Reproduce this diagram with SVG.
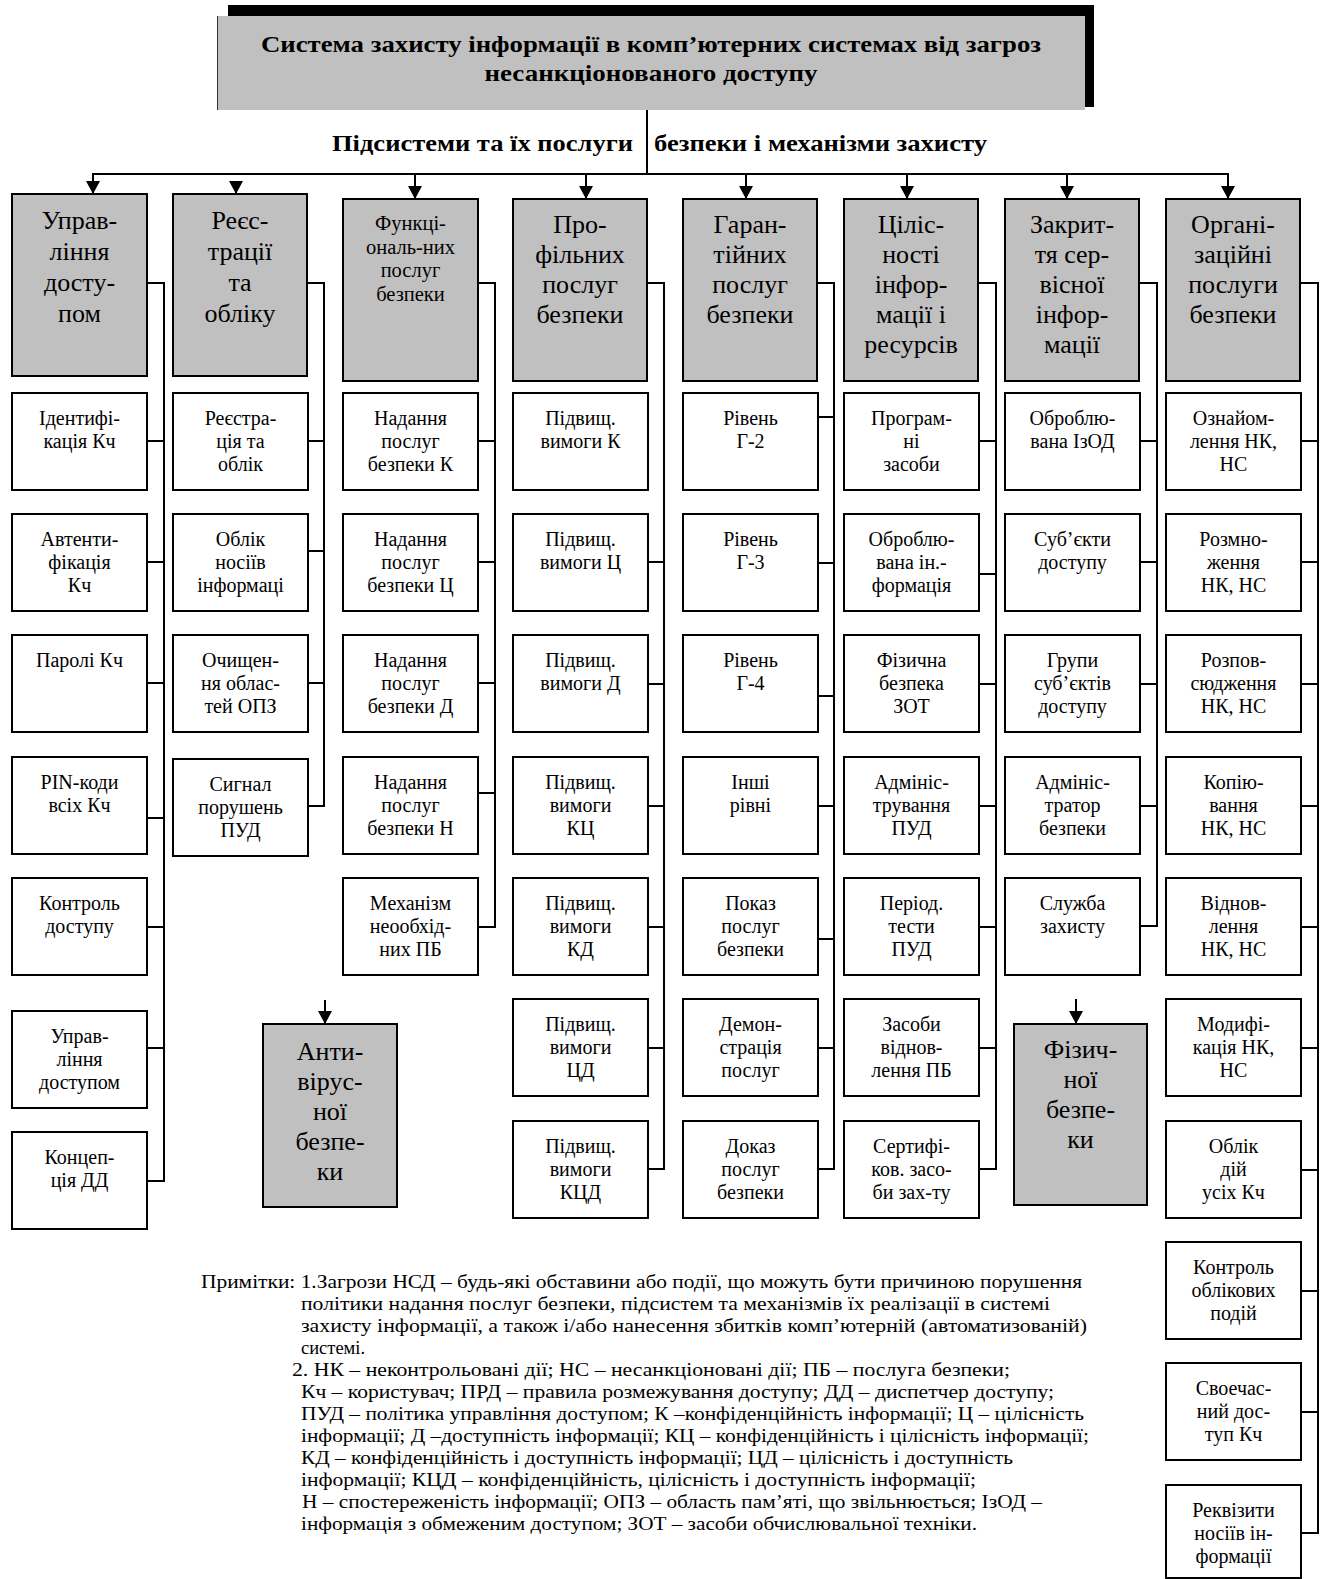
<svg xmlns="http://www.w3.org/2000/svg" width="1322" height="1579" viewBox="0 0 1322 1579">
<style>
.b{fill:#fff;stroke:#000;stroke-width:2}
.h{fill:#c0c0c0;stroke:#000;stroke-width:2}
.t{font-family:"Liberation Serif","Times New Roman",serif;font-size:20px;text-anchor:middle;fill:#000}
.ht{font-family:"Liberation Serif","Times New Roman",serif;font-size:26px;text-anchor:middle;fill:#000}
.tb{font-family:"Liberation Serif","Times New Roman",serif;font-weight:bold;font-size:24px;fill:#000}
.n{font-family:"Liberation Serif","Times New Roman",serif;font-size:18.5px;fill:#000}
.c{fill:none;stroke:#000;stroke-width:2}
</style>
<defs>
<marker id="ar" markerUnits="userSpaceOnUse" markerWidth="14" markerHeight="14" viewBox="0 0 13 14" refX="13" refY="7" orient="auto">
<path d="M0,0 L13,7 L0,14 z" fill="#000"/>
</marker>
</defs>
<rect width="1322" height="1579" fill="#fff"/>

<g id="title">
<rect x="228" y="5" width="866" height="102" fill="#000"/>
<rect x="217" y="16" width="868" height="94" fill="#c0c0c0"/>
<line x1="217.5" y1="16" x2="217.5" y2="110" stroke="#333" stroke-width="1"/>
<text class="tb" x="651" y="52" text-anchor="middle" textLength="780" lengthAdjust="spacingAndGlyphs">Система захисту інформації в комп’ютерних системах від загроз</text>
<text class="tb" x="651" y="81" text-anchor="middle" textLength="333" lengthAdjust="spacingAndGlyphs">несанкціонованого доступу</text>
</g>
<g id="subtitle">
<text class="tb" x="332" y="151" textLength="301" lengthAdjust="spacingAndGlyphs">Підсистеми та їх послуги</text>
<text class="tb" x="654" y="151" textLength="333" lengthAdjust="spacingAndGlyphs">безпеки і механізми захисту</text>
</g>

<g id="connectors">
<line class="c" x1="647" y1="110" x2="647" y2="174"/>
<polyline class="c" points="93,194 93,174 1228,174 1228,199"/>
<line class="c" x1="93" y1="174" x2="93" y2="194" marker-end="url(#ar)"/>
<line class="c" x1="236" y1="184" x2="236" y2="194" marker-end="url(#ar)"/>
<line class="c" x1="415" y1="174" x2="415" y2="199" marker-end="url(#ar)"/>
<line class="c" x1="586" y1="174" x2="586" y2="199" marker-end="url(#ar)"/>
<line class="c" x1="746" y1="174" x2="746" y2="199" marker-end="url(#ar)"/>
<line class="c" x1="907" y1="174" x2="907" y2="199" marker-end="url(#ar)"/>
<line class="c" x1="1067" y1="174" x2="1067" y2="199" marker-end="url(#ar)"/>
<line class="c" x1="1228" y1="174" x2="1228" y2="199" marker-end="url(#ar)"/>
<line class="c" x1="325" y1="1000" x2="325" y2="1024" marker-end="url(#ar)"/>
<line class="c" x1="1076" y1="999" x2="1076" y2="1024" marker-end="url(#ar)"/>
<path class="c" d="M147,283 H164 V1181 H147 M147,441 H164 M147,562 H164 M147,683 H164 M147,818 H164 M147,927 H164 M147,1048 H164"/>
<path class="c" d="M307,283 H324 V806 H308 M308,441 H324 M308,551 H324 M308,683 H324"/>
<path class="c" d="M478,283 H495 V927 H478 M478,441 H495 M478,562 H495 M478,683 H495 M478,793 H495"/>
<path class="c" d="M648,283 H664 V1169 H648 M648,562 H664 M648,684 H664 M648,806 H664 M648,927 H664 M648,1048 H664"/>
<path class="c" d="M818,283 H834 V1169 H818 M818,417 H834 M818,563 H834 M818,696 H834 M818,806 H834 M818,939 H834 M818,1048 H834"/>
<path class="c" d="M979,283 H996 V1169 H979 M979,441 H996 M979,574 H996 M979,684 H996 M979,806 H996 M979,927 H996 M979,1048 H996"/>
<path class="c" d="M1140,283 H1157 V926 H1140 M1140,441 H1157 M1140,562 H1157 M1140,684 H1157 M1140,806 H1157"/>
<path class="c" d="M1301,283 H1318 V1533 H1301 M1301,441 H1318 M1301,562 H1318 M1301,684 H1318 M1301,806 H1318 M1301,927 H1318 M1301,1048 H1318 M1301,1170 H1318 M1301,1291 H1318 M1301,1412 H1318"/>
</g>

<g id="h1"><rect class="h" x="12" y="194" width="135" height="182"/>
<text class="ht"><tspan x="79.5" y="229">Управ-</tspan><tspan x="79.5" y="260">ління</tspan><tspan x="79.5" y="291">досту-</tspan><tspan x="79.5" y="322">пом</tspan></text></g>
<g id="c1r1"><rect class="b" x="12" y="393" width="135" height="97"/><text class="t"><tspan x="79.5" y="425">Ідентифі-</tspan><tspan x="79.5" y="448">кація Кч</tspan></text></g>
<g id="c1r2"><rect class="b" x="12" y="514" width="135" height="97"/><text class="t"><tspan x="79.5" y="546">Автенти-</tspan><tspan x="79.5" y="569">фікація</tspan><tspan x="79.5" y="592">Кч</tspan></text></g>
<g id="c1r3"><rect class="b" x="12" y="635" width="135" height="97"/><text class="t"><tspan x="79.5" y="667">Паролі Кч</tspan></text></g>
<g id="c1r4"><rect class="b" x="12" y="757" width="135" height="97"/><text class="t"><tspan x="79.5" y="789">PIN-коди</tspan><tspan x="79.5" y="812">всіх Кч</tspan></text></g>
<g id="c1r5"><rect class="b" x="12" y="878" width="135" height="97"/><text class="t"><tspan x="79.5" y="910">Контроль</tspan><tspan x="79.5" y="933">доступу</tspan></text></g>
<g id="c1r6"><rect class="b" x="12" y="1011" width="135" height="97"/><text class="t"><tspan x="79.5" y="1043">Управ-</tspan><tspan x="79.5" y="1066">ління</tspan><tspan x="79.5" y="1089">доступом</tspan></text></g>
<g id="c1r7"><rect class="b" x="12" y="1132" width="135" height="97"/><text class="t"><tspan x="79.5" y="1164">Концеп-</tspan><tspan x="79.5" y="1187">ція ДД</tspan></text></g>

<g id="h2"><rect class="h" x="173" y="194" width="134" height="182"/>
<text class="ht"><tspan x="240" y="229">Реєс-</tspan><tspan x="240" y="260">трації</tspan><tspan x="240" y="291">та</tspan><tspan x="240" y="322">обліку</tspan></text></g>
<g id="c2r1"><rect class="b" x="173" y="393" width="135" height="97"/><text class="t"><tspan x="240.5" y="425">Реєстра-</tspan><tspan x="240.5" y="448">ція та</tspan><tspan x="240.5" y="471">облік</tspan></text></g>
<g id="c2r2"><rect class="b" x="173" y="514" width="135" height="97"/><text class="t"><tspan x="240.5" y="546">Облік</tspan><tspan x="240.5" y="569">носіїв</tspan><tspan x="240.5" y="592">інформаці</tspan></text></g>
<g id="c2r3"><rect class="b" x="173" y="635" width="135" height="97"/><text class="t"><tspan x="240.5" y="667">Очищен-</tspan><tspan x="240.5" y="690">ня облас-</tspan><tspan x="240.5" y="713">тей ОПЗ</tspan></text></g>
<g id="c2r4"><rect class="b" x="173" y="759" width="135" height="97"/><text class="t"><tspan x="240.5" y="791">Сигнал</tspan><tspan x="240.5" y="814">порушень</tspan><tspan x="240.5" y="837">ПУД</tspan></text></g>

<g id="h3"><rect class="h" x="343" y="199" width="135" height="182"/>
<text class="t" style="font-size:20.5px"><tspan x="410.5" y="230">Функці-</tspan><tspan x="410.5" y="253.5">ональ-них</tspan><tspan x="410.5" y="277">послуг</tspan><tspan x="410.5" y="300.5">безпеки</tspan></text></g>
<g id="c3r1"><rect class="b" x="343" y="393" width="135" height="97"/><text class="t"><tspan x="410.5" y="425">Надання</tspan><tspan x="410.5" y="448">послуг</tspan><tspan x="410.5" y="471">безпеки К</tspan></text></g>
<g id="c3r2"><rect class="b" x="343" y="514" width="135" height="97"/><text class="t"><tspan x="410.5" y="546">Надання</tspan><tspan x="410.5" y="569">послуг</tspan><tspan x="410.5" y="592">безпеки Ц</tspan></text></g>
<g id="c3r3"><rect class="b" x="343" y="635" width="135" height="97"/><text class="t"><tspan x="410.5" y="667">Надання</tspan><tspan x="410.5" y="690">послуг</tspan><tspan x="410.5" y="713">безпеки Д</tspan></text></g>
<g id="c3r4"><rect class="b" x="343" y="757" width="135" height="97"/><text class="t"><tspan x="410.5" y="789">Надання</tspan><tspan x="410.5" y="812">послуг</tspan><tspan x="410.5" y="835">безпеки Н</tspan></text></g>
<g id="c3r5"><rect class="b" x="343" y="878" width="135" height="97"/><text class="t"><tspan x="410.5" y="910">Механізм</tspan><tspan x="410.5" y="933">неообхід-</tspan><tspan x="410.5" y="956">них ПБ</tspan></text></g>

<g id="h4"><rect class="h" x="513" y="199" width="134" height="182"/>
<text class="ht"><tspan x="580" y="233">Про-</tspan><tspan x="580" y="263">фільних</tspan><tspan x="580" y="293">послуг</tspan><tspan x="580" y="323">безпеки</tspan></text></g>
<g id="c4r1"><rect class="b" x="513" y="393" width="135" height="97"/><text class="t"><tspan x="580.5" y="425">Підвищ.</tspan><tspan x="580.5" y="448">вимоги К</tspan></text></g>
<g id="c4r2"><rect class="b" x="513" y="514" width="135" height="97"/><text class="t"><tspan x="580.5" y="546">Підвищ.</tspan><tspan x="580.5" y="569">вимоги Ц</tspan></text></g>
<g id="c4r3"><rect class="b" x="513" y="635" width="135" height="97"/><text class="t"><tspan x="580.5" y="667">Підвищ.</tspan><tspan x="580.5" y="690">вимоги Д</tspan></text></g>
<g id="c4r4"><rect class="b" x="513" y="757" width="135" height="97"/><text class="t"><tspan x="580.5" y="789">Підвищ.</tspan><tspan x="580.5" y="812">вимоги</tspan><tspan x="580.5" y="835">КЦ</tspan></text></g>
<g id="c4r5"><rect class="b" x="513" y="878" width="135" height="97"/><text class="t"><tspan x="580.5" y="910">Підвищ.</tspan><tspan x="580.5" y="933">вимоги</tspan><tspan x="580.5" y="956">КД</tspan></text></g>
<g id="c4r6"><rect class="b" x="513" y="999" width="135" height="97"/><text class="t"><tspan x="580.5" y="1031">Підвищ.</tspan><tspan x="580.5" y="1054">вимоги</tspan><tspan x="580.5" y="1077">ЦД</tspan></text></g>
<g id="c4r7"><rect class="b" x="513" y="1121" width="135" height="97"/><text class="t"><tspan x="580.5" y="1153">Підвищ.</tspan><tspan x="580.5" y="1176">вимоги</tspan><tspan x="580.5" y="1199">КЦД</tspan></text></g>

<g id="h5"><rect class="h" x="683" y="199" width="134" height="182"/>
<text class="ht"><tspan x="750" y="233">Гаран-</tspan><tspan x="750" y="263">тійних</tspan><tspan x="750" y="293">послуг</tspan><tspan x="750" y="323">безпеки</tspan></text></g>
<g id="c5r1"><rect class="b" x="683" y="393" width="135" height="97"/><text class="t"><tspan x="750.5" y="425">Рівень</tspan><tspan x="750.5" y="448">Г-2</tspan></text></g>
<g id="c5r2"><rect class="b" x="683" y="514" width="135" height="97"/><text class="t"><tspan x="750.5" y="546">Рівень</tspan><tspan x="750.5" y="569">Г-3</tspan></text></g>
<g id="c5r3"><rect class="b" x="683" y="635" width="135" height="97"/><text class="t"><tspan x="750.5" y="667">Рівень</tspan><tspan x="750.5" y="690">Г-4</tspan></text></g>
<g id="c5r4"><rect class="b" x="683" y="757" width="135" height="97"/><text class="t"><tspan x="750.5" y="789">Інші</tspan><tspan x="750.5" y="812">рівні</tspan></text></g>
<g id="c5r5"><rect class="b" x="683" y="878" width="135" height="97"/><text class="t"><tspan x="750.5" y="910">Показ</tspan><tspan x="750.5" y="933">послуг</tspan><tspan x="750.5" y="956">безпеки</tspan></text></g>
<g id="c5r6"><rect class="b" x="683" y="999" width="135" height="97"/><text class="t"><tspan x="750.5" y="1031">Демон-</tspan><tspan x="750.5" y="1054">страція</tspan><tspan x="750.5" y="1077">послуг</tspan></text></g>
<g id="c5r7"><rect class="b" x="683" y="1121" width="135" height="97"/><text class="t"><tspan x="750.5" y="1153">Доказ</tspan><tspan x="750.5" y="1176">послуг</tspan><tspan x="750.5" y="1199">безпеки</tspan></text></g>

<g id="h6"><rect class="h" x="844" y="199" width="134" height="182"/>
<text class="ht"><tspan x="911" y="233">Ціліс-</tspan><tspan x="911" y="263">ності</tspan><tspan x="911" y="293">інфор-</tspan><tspan x="911" y="323">мації і</tspan><tspan x="911" y="353">ресурсів</tspan></text></g>
<g id="c6r1"><rect class="b" x="844" y="393" width="135" height="97"/><text class="t"><tspan x="911.5" y="425">Програм-</tspan><tspan x="911.5" y="448">ні</tspan><tspan x="911.5" y="471">засоби</tspan></text></g>
<g id="c6r2"><rect class="b" x="844" y="514" width="135" height="97"/><text class="t"><tspan x="911.5" y="546">Оброблю-</tspan><tspan x="911.5" y="569">вана ін.-</tspan><tspan x="911.5" y="592">формація</tspan></text></g>
<g id="c6r3"><rect class="b" x="844" y="635" width="135" height="97"/><text class="t"><tspan x="911.5" y="667">Фізична</tspan><tspan x="911.5" y="690">безпека</tspan><tspan x="911.5" y="713">ЗОТ</tspan></text></g>
<g id="c6r4"><rect class="b" x="844" y="757" width="135" height="97"/><text class="t"><tspan x="911.5" y="789">Адмініс-</tspan><tspan x="911.5" y="812">трування</tspan><tspan x="911.5" y="835">ПУД</tspan></text></g>
<g id="c6r5"><rect class="b" x="844" y="878" width="135" height="97"/><text class="t"><tspan x="911.5" y="910">Період.</tspan><tspan x="911.5" y="933">тести</tspan><tspan x="911.5" y="956">ПУД</tspan></text></g>
<g id="c6r6"><rect class="b" x="844" y="999" width="135" height="97"/><text class="t"><tspan x="911.5" y="1031">Засоби</tspan><tspan x="911.5" y="1054">віднов-</tspan><tspan x="911.5" y="1077">лення ПБ</tspan></text></g>
<g id="c6r7"><rect class="b" x="844" y="1121" width="135" height="97"/><text class="t"><tspan x="911.5" y="1153">Сертифі-</tspan><tspan x="911.5" y="1176">ков. засо-</tspan><tspan x="911.5" y="1199">би зах-ту</tspan></text></g>

<g id="h7"><rect class="h" x="1005" y="199" width="134" height="182"/>
<text class="ht"><tspan x="1072" y="233">Закрит-</tspan><tspan x="1072" y="263">тя сер-</tspan><tspan x="1072" y="293">вісної</tspan><tspan x="1072" y="323">інфор-</tspan><tspan x="1072" y="353">мації</tspan></text></g>
<g id="c7r1"><rect class="b" x="1005" y="393" width="135" height="97"/><text class="t"><tspan x="1072.5" y="425">Оброблю-</tspan><tspan x="1072.5" y="448">вана ІзОД</tspan></text></g>
<g id="c7r2"><rect class="b" x="1005" y="514" width="135" height="97"/><text class="t"><tspan x="1072.5" y="546">Суб’єкти</tspan><tspan x="1072.5" y="569">доступу</tspan></text></g>
<g id="c7r3"><rect class="b" x="1005" y="635" width="135" height="97"/><text class="t"><tspan x="1072.5" y="667">Групи</tspan><tspan x="1072.5" y="690">суб’єктів</tspan><tspan x="1072.5" y="713">доступу</tspan></text></g>
<g id="c7r4"><rect class="b" x="1005" y="757" width="135" height="97"/><text class="t"><tspan x="1072.5" y="789">Адмініс-</tspan><tspan x="1072.5" y="812">тратор</tspan><tspan x="1072.5" y="835">безпеки</tspan></text></g>
<g id="c7r5"><rect class="b" x="1005" y="878" width="135" height="97"/><text class="t"><tspan x="1072.5" y="910">Служба</tspan><tspan x="1072.5" y="933">захисту</tspan></text></g>

<g id="h8"><rect class="h" x="1166" y="199" width="134" height="182"/>
<text class="ht"><tspan x="1233" y="233">Органі-</tspan><tspan x="1233" y="263">заційні</tspan><tspan x="1233" y="293">послуги</tspan><tspan x="1233" y="323">безпеки</tspan></text></g>
<g id="c8r1"><rect class="b" x="1166" y="393" width="135" height="97"/><text class="t"><tspan x="1233.5" y="425">Ознайом-</tspan><tspan x="1233.5" y="448">лення НК,</tspan><tspan x="1233.5" y="471">НС</tspan></text></g>
<g id="c8r2"><rect class="b" x="1166" y="514" width="135" height="97"/><text class="t"><tspan x="1233.5" y="546">Розмно-</tspan><tspan x="1233.5" y="569">ження</tspan><tspan x="1233.5" y="592">НК, НС</tspan></text></g>
<g id="c8r3"><rect class="b" x="1166" y="635" width="135" height="97"/><text class="t"><tspan x="1233.5" y="667">Розпов-</tspan><tspan x="1233.5" y="690">сюдження</tspan><tspan x="1233.5" y="713">НК, НС</tspan></text></g>
<g id="c8r4"><rect class="b" x="1166" y="757" width="135" height="97"/><text class="t"><tspan x="1233.5" y="789">Копію-</tspan><tspan x="1233.5" y="812">вання</tspan><tspan x="1233.5" y="835">НК, НС</tspan></text></g>
<g id="c8r5"><rect class="b" x="1166" y="878" width="135" height="97"/><text class="t"><tspan x="1233.5" y="910">Віднов-</tspan><tspan x="1233.5" y="933">лення</tspan><tspan x="1233.5" y="956">НК, НС</tspan></text></g>
<g id="c8r6"><rect class="b" x="1166" y="999" width="135" height="97"/><text class="t"><tspan x="1233.5" y="1031">Модифі-</tspan><tspan x="1233.5" y="1054">кація  НК,</tspan><tspan x="1233.5" y="1077">НС</tspan></text></g>
<g id="c8r7"><rect class="b" x="1166" y="1121" width="135" height="97"/><text class="t"><tspan x="1233.5" y="1153">Облік</tspan><tspan x="1233.5" y="1176">дій</tspan><tspan x="1233.5" y="1199">усіх Кч</tspan></text></g>
<g id="c8r8"><rect class="b" x="1166" y="1242" width="135" height="97"/><text class="t"><tspan x="1233.5" y="1274">Контроль</tspan><tspan x="1233.5" y="1297">облікових</tspan><tspan x="1233.5" y="1320">подій</tspan></text></g>
<g id="c8r9"><rect class="b" x="1166" y="1363" width="135" height="97"/><text class="t"><tspan x="1233.5" y="1395">Своечас-</tspan><tspan x="1233.5" y="1418">ний дос-</tspan><tspan x="1233.5" y="1441">туп Кч</tspan></text></g>
<g id="c8r10"><rect class="b" x="1166" y="1485" width="135" height="93"/><text class="t"><tspan x="1233.5" y="1517">Реквізити</tspan><tspan x="1233.5" y="1540">носіїв ін-</tspan><tspan x="1233.5" y="1563">формації</tspan></text></g>

<g id="antivirus"><rect class="h" x="263" y="1024" width="134" height="183"/>
<text class="ht"><tspan x="330" y="1060">Анти-</tspan><tspan x="330" y="1090">вірус-</tspan><tspan x="330" y="1120">ної</tspan><tspan x="330" y="1150">безпе-</tspan><tspan x="330" y="1180">ки</tspan></text></g>
<g id="physical"><rect class="h" x="1014" y="1024" width="133" height="181"/>
<text class="ht"><tspan x="1080.5" y="1058">Фізич-</tspan><tspan x="1080.5" y="1088">ної</tspan><tspan x="1080.5" y="1118">безпе-</tspan><tspan x="1080.5" y="1148">ки</tspan></text></g>

<g id="notes">
<text class="n" x="201" y="1288" textLength="881" lengthAdjust="spacingAndGlyphs">Примітки: 1.Загрози НСД – будь-які обставини або події, що можуть бути причиною порушення</text>
<text class="n" x="301" y="1310" textLength="749" lengthAdjust="spacingAndGlyphs">політики надання  послуг безпеки, підсистем та механізмів їх реалізації в системі</text>
<text class="n" x="301" y="1332" textLength="786" lengthAdjust="spacingAndGlyphs">захисту інформації, а також і/або нанесення  збитків  комп’ютерній (автоматизованій)</text>
<text class="n" x="301" y="1354">системі.</text>
<text class="n" x="292" y="1376" textLength="718" lengthAdjust="spacingAndGlyphs">2. НК – неконтрольовані дії; НС – несанкціоновані дії;  ПБ – послуга безпеки;</text>
<text class="n" x="301" y="1398" textLength="753" lengthAdjust="spacingAndGlyphs">Кч – користувач; ПРД – правила розмежування доступу; ДД – диспетчер доступу;</text>
<text class="n" x="301" y="1420" textLength="783" lengthAdjust="spacingAndGlyphs">ПУД – політика управління доступом; К –конфіденційність інформації; Ц – цілісність</text>
<text class="n" x="301" y="1442" textLength="788" lengthAdjust="spacingAndGlyphs">інформації; Д –доступність інформації; КЦ – конфіденційність і цілісність інформації;</text>
<text class="n" x="301" y="1464" textLength="712" lengthAdjust="spacingAndGlyphs">КД – конфіденційність і доступність інформації; ЦД – цілісність і доступність</text>
<text class="n" x="301" y="1486" textLength="675" lengthAdjust="spacingAndGlyphs">інформації; КЦД – конфіденційність, цілісність і доступність інформації;</text>
<text class="n" x="302" y="1508" textLength="740" lengthAdjust="spacingAndGlyphs">Н – спостереженість інформації; ОПЗ – область пам’яті, що звільнюється; ІзОД –</text>
<text class="n" x="301" y="1530" textLength="676" lengthAdjust="spacingAndGlyphs">інформація з обмеженим доступом; ЗОТ – засоби обчислювальної техніки.</text>
</g>
</svg>
